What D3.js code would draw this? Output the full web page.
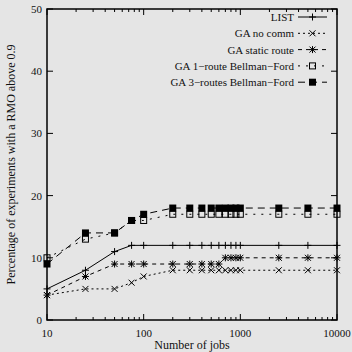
<!DOCTYPE html>
<html>
<head>
<meta charset="utf-8">
<script src="https://cdn.jsdelivr.net/npm/d3@7"></script>
<style>
  body { margin: 0; background: #e5e5e5; }
  svg text { font-family: "Liberation Serif", "DejaVu Serif", serif; fill: #111; }
</style>
</head>
<body>
<div id="chart"></div>
<script>
// data
var jobs = [10, 25, 50, 75, 100, 200, 300, 400, 500, 600, 700, 800, 900, 1000, 2500, 5000, 10000];
var listVals     = [5, 8, 11, 12, 12, 12, 12, 12, 12, 12, 12, 12, 12, 12, 12, 12, 12];
var noCommVals   = [4, 5, 5, 6, 7, 8, 8, 8, 8, 8, 8, 8, 8, 8, 8, 8, 8];
var staticVals   = [4, 7, 9, 9, 9, 9, 9, 9, 9, 9, 10, 10, 10, 10, 10, 10, 10];
var bf1Vals      = [10, 13, 14, 16, 16, 17, 17, 17, 17, 17, 17, 17, 17, 17, 17, 17, 17];
var bf3Vals      = [9, 14, 14, 16, 17, 18, 18, 18, 18, 18, 18, 18, 18, 18, 18, 18, 18];
var seriesNames  = ["LIST", "GA no comm", "GA static route", "GA 1\u2212route Bellman\u2212Ford", "GA 3\u2212routes Bellman\u2212Ford"];
var xTicks = [10, 100, 1000, 10000];
var yTicks = [0, 10, 20, 30, 40, 50];

var series = [
    {name: seriesNames[0], values: listVals, dash: null, marker: "plus"},
    {name: seriesNames[1], values: noCommVals, dash: "2,3", marker: "cross"},
    {name: seriesNames[2], values: staticVals, dash: "4,4", marker: "star"},
    {name: seriesNames[3], values: bf1Vals, dash: "2,6", marker: "box"},
    {name: seriesNames[4], values: bf3Vals, dash: "7,5", marker: "fbox"}
];

var W = 352, H = 352;
var margin = {top: 9, right: 15, bottom: 32, left: 47};
var width = W - margin.left - margin.right,
    height = H - margin.top - margin.bottom;

var svg = d3.select("#chart").append("svg")
    .attr("width", W)
    .attr("height", H);

svg.append("rect").attr("width", W).attr("height", H).attr("fill", "#e5e5e5");

var g = svg.append("g")
    .attr("transform", "translate(" + margin.left + "," + margin.top + ")");

var x = d3.scaleLog().domain([10, 10000]).range([0, width]);
var y = d3.scaleLinear().domain([0, 50]).range([height, 0]);

// ticks (gnuplot style, inward on all four sides)
var minor = [];
for (var dec = 10; dec < 10000; dec *= 10) {
    for (var k = 2; k <= 9; k++) minor.push(dec * k);
}
var ticks = g.append("g").attr("stroke", "#000").attr("stroke-width", 1);
xTicks.forEach(function(t) {
    ticks.append("line").attr("x1", x(t)).attr("x2", x(t)).attr("y1", height).attr("y2", height - 6);
    ticks.append("line").attr("x1", x(t)).attr("x2", x(t)).attr("y1", 0).attr("y2", 6);
});
minor.forEach(function(t) {
    ticks.append("line").attr("x1", x(t)).attr("x2", x(t)).attr("y1", height).attr("y2", height - 3);
    ticks.append("line").attr("x1", x(t)).attr("x2", x(t)).attr("y1", 0).attr("y2", 3);
});
yTicks.forEach(function(t) {
    ticks.append("line").attr("x1", 0).attr("x2", 6).attr("y1", y(t)).attr("y2", y(t));
    ticks.append("line").attr("x1", width).attr("x2", width - 6).attr("y1", y(t)).attr("y2", y(t));
});

g.append("g").selectAll("text").data(xTicks).enter().append("text")
    .attr("x", function(d) { return x(d); })
    .attr("y", height + 17)
    .attr("text-anchor", "middle")
    .attr("font-size", 11)
    .text(function(d) { return d; });

g.append("g").selectAll("text").data(yTicks).enter().append("text")
    .attr("x", -5)
    .attr("y", function(d) { return y(d) + 4; })
    .attr("text-anchor", "end")
    .attr("font-size", 11)
    .text(function(d) { return d; });

svg.append("text")
    .attr("x", margin.left + width / 2)
    .attr("y", H - 3)
    .attr("text-anchor", "middle")
    .attr("font-size", 12)
    .text("Number of jobs");

svg.append("text")
    .attr("transform", "translate(15," + (margin.top + height / 2) + ") rotate(-90)")
    .attr("text-anchor", "middle")
    .attr("font-size", 12)
    .text("Percentage of experiments with a RMO above 0.9");

function drawMarker(sel, type, cx, cy) {
    var s = 3.5;
    if (type == "plus" || type == "star") {
        sel.append("path").attr("d", "M" + (cx - s) + "," + cy + "H" + (cx + s) + "M" + cx + "," + (cy - s) + "V" + (cy + s))
            .attr("stroke", "#000").attr("fill", "none");
    }
    if (type == "cross" || type == "star") {
        var c = 3;
        sel.append("path").attr("d", "M" + (cx - c) + "," + (cy - c) + "L" + (cx + c) + "," + (cy + c) +
            "M" + (cx - c) + "," + (cy + c) + "L" + (cx + c) + "," + (cy - c))
            .attr("stroke", "#000").attr("fill", "none");
    }
    if (type == "box") {
        sel.append("rect").attr("x", cx - 3).attr("y", cy - 3).attr("width", 6).attr("height", 6)
            .attr("fill", "none").attr("stroke", "#000");
    }
    if (type == "fbox") {
        sel.append("rect").attr("x", cx - 3.5).attr("y", cy - 3.5).attr("width", 7).attr("height", 7)
            .attr("fill", "#000");
    }
}

var line = d3.line()
    .x(function(d) { return x(d[0]); })
    .y(function(d) { return y(d[1]); });

series.forEach(function(s) {
    var pts = jobs.map(function(j, i) { return [j, s.values[i]]; });
    var sg = g.append("g");
    sg.append("path")
        .attr("d", line(pts))
        .attr("fill", "none")
        .attr("stroke", "#000")
        .attr("stroke-width", 1)
        .attr("stroke-dasharray", s.dash);
    pts.forEach(function(p) { drawMarker(sg, s.marker, x(p[0]), y(p[1])); });
});

// frame
g.append("rect").attr("width", width).attr("height", height)
    .attr("fill", "none").attr("stroke", "#000").attr("stroke-width", 1.5);

// legend
var legend = svg.append("g");
series.forEach(function(s, i) {
    var ly = 17 + i * 16.3;
    legend.append("text")
        .attr("x", 294)
        .attr("y", ly + 4)
        .attr("text-anchor", "end")
        .attr("font-size", 11)
        .text(s.name);
    legend.append("line")
        .attr("x1", 298).attr("x2", 327)
        .attr("y1", ly).attr("y2", ly)
        .attr("stroke", "#000")
        .attr("stroke-dasharray", s.dash);
    drawMarker(legend, s.marker, 312.5, ly);
});
</script>
</body>
</html>
